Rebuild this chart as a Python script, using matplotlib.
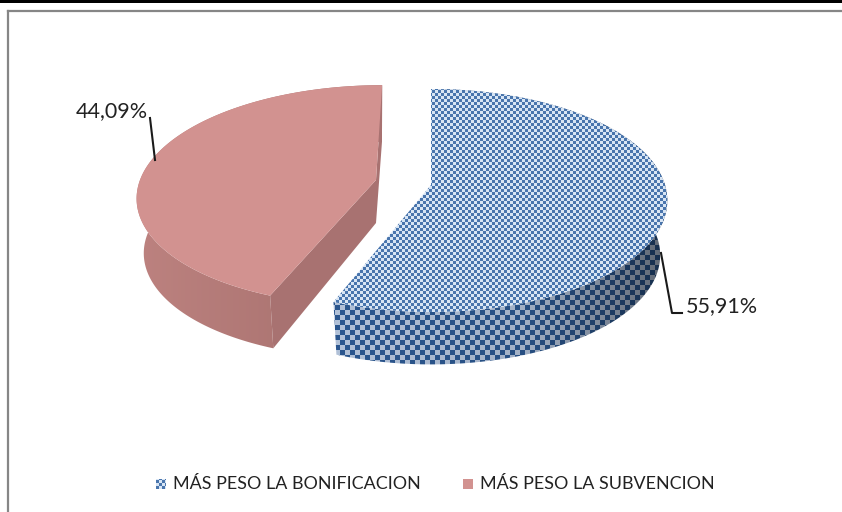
import numpy as np
import matplotlib.pyplot as plt
from matplotlib.patches import Polygon, Rectangle

# share of each slice, clockwise from 12 o'clock
slice_names = ['MÁS PESO LA BONIFICACION', 'MÁS PESO LA SUBVENCION']
slice_values = [55.91, 44.09]
value_labels = ['55,91%', '44,09%']

plt.rcParams['font.family'] = ['Lato', 'DejaVu Sans']

W, H = 842, 512
K = 0.139        # perspective strength of the tilted disc
DEPTH = 55       # extrusion of the rim
APEX_DEPTH = 43  # extrusion at the slice centre
SCALE_X, SCALE_Y = 0.97, 0.98   # bottom rim relative to top rim


def rim(theta, cx, cy, rx, ry, shear=0.0, bottom=False):
    """Screen position of the disc rim at clockwise angle theta (degrees)."""
    t = np.radians(theta)
    X, Y = np.sin(t), np.cos(t)
    s = 1.0 / (1.0 + K * Y)
    dx = (rx * X + shear * Y) * s
    dy = -ry * Y * s
    if bottom:
        return np.column_stack([cx + SCALE_X * dx, cy + DEPTH + SCALE_Y * dy])
    return np.column_stack([cx + dx, cy + dy])


def fill_checker(ax, verts, cell, dark, light, shade=None, zorder=2):
    """Paint a checker pattern clipped to a polygon."""
    x0, y0 = np.floor(verts.min(axis=0)).astype(int) - 1
    x1, y1 = np.ceil(verts.max(axis=0)).astype(int) + 1
    yy, xx = np.mgrid[y0:y1, x0:x1]
    mask = ((xx // cell + yy // cell) % 2).astype(float)[..., None]
    img = np.array(dark) * (1 - mask) + np.array(light) * mask
    if shade is not None:
        img = img * shade(xx + 0.5)[..., None]
    im = ax.imshow(np.clip(img, 0, 1), extent=(x0, x1, y1, y0),
                   interpolation='bilinear', aspect='auto', zorder=zorder)
    clip = Polygon(verts, closed=True, transform=ax.transData)
    im.set_clip_path(clip)


def fill_gradient(ax, verts, stops, zorder=2):
    """Paint a left-to-right colour gradient clipped to a polygon."""
    x0, y0 = np.floor(verts.min(axis=0)).astype(int) - 1
    x1, y1 = np.ceil(verts.max(axis=0)).astype(int) + 1
    xs = np.linspace(0, 1, x1 - x0)
    pos = np.linspace(0, 1, len(stops))
    stops = np.array(stops)
    row = np.column_stack([np.interp(xs, pos, stops[:, i]) for i in range(3)])
    im = ax.imshow(row[None, ...], extent=(x0, x1, y1, y0),
                   interpolation='bilinear', aspect='auto', zorder=zorder)
    im.set_clip_path(Polygon(verts, closed=True, transform=ax.transData))


fig = plt.figure(figsize=(W / 100, H / 100), dpi=100)
ax = fig.add_axes([0, 0, 1, 1])

# outer chart frame runs off the right and bottom edges
ax.plot([8, 8], [H, 11], color='#868686', lw=1.6, zorder=1, solid_capstyle='projecting')
ax.plot([8, W], [11, 11], color='#868686', lw=1.6, zorder=1, solid_capstyle='projecting')
ax.add_patch(Rectangle((0, 0), W, 3, fc='black', ec='none', zorder=1))

angles = np.cumsum([0] + slice_values) / sum(slice_values) * 360

# first slice, blue checker
cx, cy, rx, ry = 431, 185, 234, 109.3
th = np.linspace(angles[0], angles[1], 200)
top = rim(th, cx, cy, rx, ry)
bot = rim(th, cx, cy, rx, ry, bottom=True)
side = np.vstack([top, bot[::-1]])
face = np.vstack([[cx, cy], top])
fill_checker(ax, side, 5, (0.17, 0.34, 0.56), (0.70, 0.76, 0.85),
             shade=lambda x: np.interp(x, [330, 520, 600, 670], [1.0, 0.92, 0.72, 0.52]), zorder=2)
fill_checker(ax, face, 3, (0.29, 0.46, 0.68), (0.85, 0.90, 0.96), zorder=3)

# second slice, pulled away from the first
cx2, cy2, rx2, ry2, sh2 = 376, 180, 236, 108, 7
th2 = np.linspace(angles[1], angles[2], 200)
top2 = rim(th2, cx2, cy2, rx2, ry2, sh2)
bot2 = rim(th2, cx2, cy2, rx2, ry2, sh2, bottom=True)
side2 = np.vstack([top2, bot2[::-1]])
face2 = np.vstack([[cx2, cy2], top2])
apex_bot = [cx2, cy2 + APEX_DEPTH]
cut = np.array([[cx2, cy2], top2[0], bot2[0], apex_bot])
back = np.array([[cx2, cy2], top2[-1], bot2[-1], apex_bot])
fill_gradient(ax, side2, [(0.74, 0.51, 0.50), (0.69, 0.47, 0.46), (0.63, 0.43, 0.43)], zorder=2)
ax.add_patch(Polygon(cut, fc='#a87271', ec='none', zorder=3))
ax.add_patch(Polygon(back, fc='#a87271', ec='none', zorder=3))
ax.add_patch(Polygon(face2, fc='#d29290', ec='none', zorder=4))

# value labels with leader lines
ax.plot([661, 672, 682], [253, 313, 313], color='#1a1a1a', lw=1.5, zorder=5)
ax.plot([150, 155], [118, 160], color='#1a1a1a', lw=1.5, zorder=5)
ax.text(686, 306, value_labels[0], fontsize=15.5, color='#222222', va='center', ha='left', zorder=6)
ax.text(76, 111, value_labels[1], fontsize=15.5, color='#222222', va='center', ha='left', zorder=6)

# legend
fill_checker(ax, np.array([[156, 479], [166, 479], [166, 489], [156, 489]]), 3,
             (0.29, 0.46, 0.68), (0.85, 0.90, 0.96), zorder=5)
ax.add_patch(Rectangle((463, 479), 10, 10, fc='#d29290', ec='none', zorder=5))
ax.text(173, 484, slice_names[0], fontsize=12.9, color='#222222', va='center', ha='left', zorder=6)
ax.text(480, 484, slice_names[1], fontsize=12.9, color='#222222', va='center', ha='left', zorder=6)

ax.set_xlim(0, W)
ax.set_ylim(H, 0)
ax.axis('off')
fig.savefig('out.png', dpi=100, facecolor='white')
